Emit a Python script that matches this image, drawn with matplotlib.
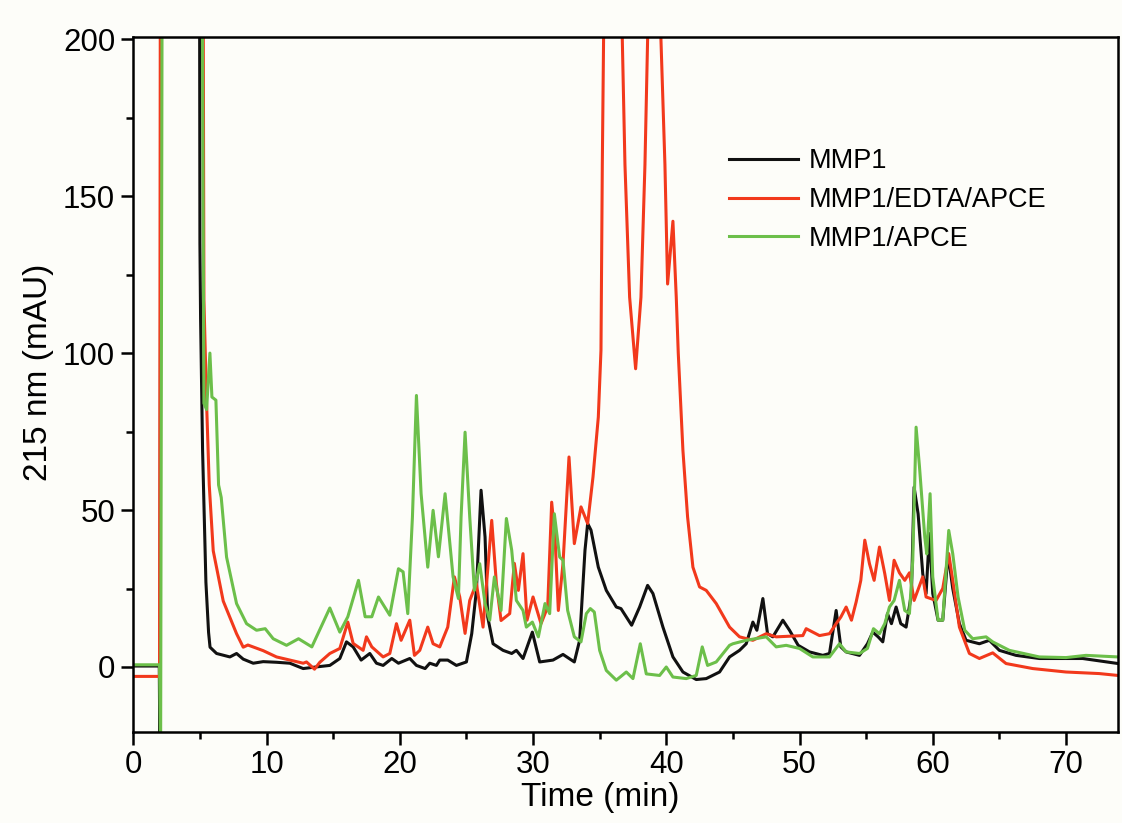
# HPLC chromatograms at 215 nm: MMP1 digests with and without EDTA / APCE

import numpy as np
import matplotlib.pyplot as plt

plt.rcParams['font.family'] = ['Liberation Sans', 'DejaVu Sans']

# (time in min, absorbance in mAU)
mmp1 = [(0, 0.3), (1.95, 0.3), (2.0, -30), (2.1, 300), (4.95, 300), (5.0, 135), (5.05, 111),
        (5.2, 69), (5.45, 27), (5.65, 11), (5.76, 6.3), (6.25, 4.3), (7.25, 3.2), (7.75, 4.3),
        (8.25, 2.5), (9.0, 1.2), (9.75, 1.7), (10.75, 1.5), (11.75, 1.2), (12.75, -0.5),
        (13.7, 0), (14.75, 0.5), (15.5, 2.7), (16.0, 8), (16.5, 6.4), (17.1, 2.2), (17.75, 4.3),
        (18.25, 1.2), (18.75, 0.5), (19.4, 2.7), (19.9, 1.2), (20.75, 2.7), (21.25, 0.5),
        (21.9, -0.5), (22.25, 1.2), (22.75, 0.5), (23.0, 2.2), (23.6, 2.2), (24.25, 0.5),
        (25.0, 1.6), (25.4, 10.6), (25.75, 24.4), (26.1, 56.3), (26.4, 41.4), (26.6, 15.9),
        (27.0, 7.4), (27.75, 5.3), (28.4, 4.3), (28.75, 5.3), (29.25, 2.7), (29.95, 11.1),
        (30.5, 1.6), (31.5, 2.2), (32.25, 4.0), (33.1, 1.6), (33.5, 8.5), (33.9, 37.2),
        (34.1, 45.7), (34.35, 43.6), (34.9, 31.8), (35.5, 24.4), (36.25, 19.1), (36.6, 18.6),
        (37.4, 13.3), (38.0, 19.1), (38.6, 26.0), (39.0, 23.4), (39.75, 12.7), (40.5, 3.2),
        (41.25, -1.6), (42.25, -4.0), (43.0, -3.7), (44.0, -1.6), (44.75, 3.2), (45.5, 5.3),
        (46.0, 7.4), (46.5, 14.3), (46.8, 11.7), (47.25, 21.8), (47.6, 10.6), (48.0, 9.6),
        (48.75, 14.9), (49.25, 11.7), (49.9, 6.9), (50.75, 4.8), (51.75, 3.7), (52.25, 4.3),
        (52.75, 18.0), (53.1, 6.4), (53.5, 4.8), (54.5, 3.7), (55.1, 7.4), (55.5, 11.1),
        (55.9, 9.6), (56.25, 8.0), (56.6, 17.0), (56.9, 13.8), (57.25, 19.1), (57.6, 13.8),
        (58.0, 12.7), (58.4, 23.4), (58.6, 57.3), (58.9, 48.8), (59.25, 29.7), (59.5, 23.4),
        (59.75, 42.5), (60.0, 23.4), (60.4, 14.9), (60.75, 14.9), (61.15, 36.1), (61.5, 25.0),
        (62.0, 13.8), (62.5, 8.5), (63.5, 7.4), (64.25, 8.5), (65.0, 5.3), (66.25, 3.7),
        (68.0, 2.7), (71.25, 2.7), (73.9, 1.1)]

mmp1_edta_apce = [(0, -3), (1.97, -3), (2.05, 300), (5.2, 300), (5.3, 117), (5.5, 84), (5.7, 58),
                  (6.0, 37), (6.75, 21), (7.75, 10.6), (8.25, 6.3), (8.6, 7.0), (9.75, 5.2),
                  (10.75, 3.2), (11.75, 2.2), (12.75, 1.2), (13.0, 1.6), (13.6, -0.7), (14.0, 1.5),
                  (14.75, 4.3), (15.5, 5.9), (16.1, 14.3), (16.5, 7.5), (17.25, 5.3), (17.5, 9.6),
                  (17.9, 6.4), (18.75, 3.2), (19.25, 4.3), (19.75, 13.8), (20.1, 8.5), (20.75, 14.9),
                  (21.1, 3.7), (21.5, 5.3), (22.1, 12.7), (22.5, 7.4), (23.0, 6.4), (23.6, 12.7),
                  (24.1, 28.7), (24.5, 22.3), (24.9, 10.7), (25.25, 21.2), (25.75, 26.6),
                  (26.25, 12.7), (26.9, 46.7), (27.25, 26.6), (27.6, 14.8), (28.25, 17.0),
                  (28.6, 33.0), (28.9, 24.4), (29.25, 36.1), (29.55, 14.9), (30.0, 22.3),
                  (30.6, 13.8), (31.1, 19.1), (31.4, 52.5), (31.65, 41.4), (31.9, 18.0),
                  (32.25, 33.0), (32.7, 66.9), (33.1, 39.3), (33.6, 51.0), (34.1, 45.7),
                  (34.5, 60.5), (34.9, 79.6), (35.1, 100.9), (35.2, 160), (35.3, 200), (35.5, 300),
                  (36.5, 300), (36.7, 200), (36.9, 160), (37.25, 117.8), (37.7, 95), (38.1, 117.8),
                  (38.4, 160), (38.6, 200), (38.8, 300), (39.4, 300), (39.6, 200), (39.9, 160),
                  (40.1, 122), (40.5, 142), (40.75, 117.8), (40.9, 100), (41.25, 69), (41.6, 47.8),
                  (42.0, 31.8), (42.5, 25.5), (43.0, 24.4), (43.75, 20.2), (44.75, 12.7),
                  (45.5, 9.6), (46.5, 8.5), (47.5, 10.6), (48.25, 9.6), (50.25, 10.0), (50.5, 12.2),
                  (51.5, 10.0), (52.25, 10.6), (52.75, 13.8), (53.1, 15.9), (53.5, 19.1),
                  (53.9, 14.9), (54.25, 20.7), (54.6, 27.6), (54.9, 40.4), (55.25, 32.9),
                  (55.6, 27.6), (56.0, 38.2), (56.4, 29.7), (56.75, 21.2), (57.1, 34.0),
                  (57.5, 30.0), (57.9, 27.6), (58.25, 30.0), (58.6, 21.2), (59.25, 28.7),
                  (59.5, 22.3), (60.25, 21.2), (60.75, 25.0), (61.2, 36.1), (61.5, 27.6),
                  (62.0, 12.7), (62.75, 4.3), (63.5, 2.7), (64.5, 4.5), (65.5, 1.1), (67.5, -0.5),
                  (70, -1.6), (72.5, -2.1), (73.9, -2.7)]

mmp1_apce = [(0, 0.7), (1.97, 0.7), (2.05, -30), (2.2, 300), (5.1, 300), (5.3, 84), (5.5, 82),
             (5.75, 100), (5.9, 86), (6.2, 85), (6.4, 58), (6.6, 54), (7.0, 35), (7.75, 20.2),
             (8.5, 13.8), (9.25, 11.7), (9.9, 12.2), (10.5, 9.0), (11.5, 6.9), (12.4, 9.0),
             (13.4, 6.4), (14.75, 18.8), (15.5, 11.1), (16.1, 16), (16.9, 27.6), (17.4, 16),
             (17.9, 16), (18.4, 22.3), (19.25, 16.5), (19.9, 31.3), (20.25, 30.3), (20.6, 17),
             (20.95, 47.8), (21.25, 86.5), (21.6, 55.2), (22.1, 31.8), (22.5, 49.9), (22.9, 35.1),
             (23.4, 55.2), (24.0, 28.7), (24.4, 21.8), (24.6, 47.8), (24.9, 74.8), (25.25, 47.8),
             (25.6, 24.4), (26.0, 32.9), (26.4, 20.2), (26.75, 14.9), (27.1, 28.7), (27.6, 18),
             (28.0, 47.3), (28.4, 37.2), (28.75, 21.2), (29.25, 18), (29.5, 12.7), (29.95, 14.3),
             (30.4, 9.6), (30.9, 20.2), (31.25, 17), (31.6, 48.8), (32.0, 35), (32.25, 34),
             (32.6, 18), (33.1, 9.6), (33.6, 8), (34.0, 17), (34.3, 18.6), (34.6, 17.5),
             (35.0, 5.3), (35.5, -1.1), (36.25, -4.2), (36.6, -3.0), (37.0, -1.6), (37.5, -3.7),
             (38.05, 7.4), (38.5, -2.2), (39.5, -2.7), (40.0, 0), (40.5, -3.2), (41.5, -3.7),
             (42.25, -2.7), (42.7, 6.4), (43.1, 0.5), (43.75, 1.6), (44.75, 6.9), (45.0, 7.4),
             (46.0, 8.5), (47.5, 9.6), (48.25, 6.4), (49.0, 6.9), (50.0, 5.9), (51.0, 3.2),
             (52.25, 3.2), (53.0, 7.4), (53.5, 4.8), (54.5, 4.3), (55.1, 5.9), (55.55, 12.2),
             (56.0, 10.6), (56.4, 13.8), (56.75, 19.1), (57.1, 21.2), (57.5, 27.6), (57.9, 18),
             (58.25, 17), (58.5, 34), (58.75, 76.4), (59.0, 64), (59.4, 41.4), (59.55, 36),
             (59.8, 55.2), (60.0, 28.7), (60.4, 14.9), (60.75, 14.9), (61.2, 43.5), (61.5, 36.1),
             (61.9, 22.3), (62.4, 11.7), (63.0, 9), (64.0, 9.6), (64.5, 8), (65.75, 5.3),
             (68.0, 3.2), (70.0, 3.0), (71.5, 3.7), (73.9, 3.2)]

labels = ["MMP1", "MMP1/EDTA/APCE", "MMP1/APCE"]
colors = ["#111111", "#f2391c", "#6cbf4a"]

fig = plt.figure(figsize=(11.22, 8.23), dpi=100, facecolor="#fdfdf9")
ax = fig.add_axes([0.1188, 0.111, 0.8776, 0.8437], facecolor="#fdfdf9")

for data, lab, col in zip([mmp1, mmp1_edta_apce, mmp1_apce], labels, colors):
    t, a = np.array(data).T
    ax.plot(t, a, color=col, lw=2.2, label=lab)

ax.set_xlim(0, 73.9)
ax.set_xticks(np.arange(0, 71, 10))
ax.set_xticks(np.arange(5, 74, 10), minor=True)
ax.set_yticks([0, 50, 100, 150, 200])
ax.set_yticks([-25, 25, 75, 125, 175], minor=True)
ax.set_ylim(-20.6, 200.6)
ax.tick_params(which="major", direction="out", length=9, width=1.8, labelsize=22.5, pad=4)
ax.tick_params(which="minor", direction="out", length=5, width=1.8)
for s in ax.spines.values():
    s.set_linewidth(1.8)

ax.set_xlabel("Time (min)", fontsize=24)
ax.set_ylabel("215 nm (mAU)", fontsize=24)
ax.xaxis.set_label_coords(0.474, -0.072)
ax.yaxis.set_label_coords(-0.081, 0.518)

ax.legend(loc="upper left", bbox_to_anchor=(0.605, 0.84), frameon=False, fontsize=19.5,
          handlelength=2.55, handletextpad=0.4, labelspacing=0.47, borderpad=0, borderaxespad=0)

fig.savefig("out.png", dpi=100, facecolor=fig.get_facecolor())
